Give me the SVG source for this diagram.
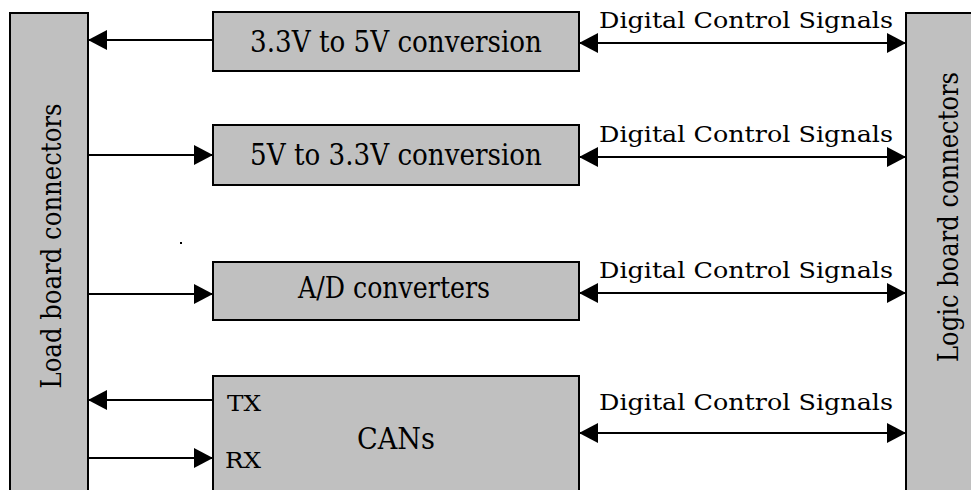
<svg xmlns="http://www.w3.org/2000/svg" width="971" height="490" viewBox="0 0 971 490">
<style>
.box{fill:#c0c0c0;stroke:#000;stroke-width:2}
.t{font-family:'DejaVu Serif','Liberation Serif',serif;fill:#000}
.c{stroke:#000;stroke-width:2;fill:none}
</style>
<defs>
<marker id="ah" viewBox="0 0 19 20" refX="19" refY="10" markerWidth="19" markerHeight="20" markerUnits="userSpaceOnUse" orient="auto-start-reverse">
<path d="M0,0 L19,10 L0,20 z" fill="#000"/>
</marker>
</defs>
<rect width="971" height="490" fill="#fff"/>
<g id="load-board">
<rect class="box" x="10" y="13" width="78" height="482"/>
<text class="t" font-size="28" text-anchor="middle" transform="translate(61,246) rotate(-90)" textLength="285" lengthAdjust="spacingAndGlyphs">Load board connectors</text>
</g>
<g id="logic-board">
<rect class="box" x="906" y="13" width="70" height="482"/>
<text class="t" font-size="28" text-anchor="middle" transform="translate(958,217) rotate(-90)" textLength="290" lengthAdjust="spacingAndGlyphs">Logic board connectors</text>
</g>
<g id="conv33to5">
<rect class="box" x="213" y="12" width="366" height="59"/>
<text class="t" font-size="29" x="396" y="52" text-anchor="middle" textLength="292" lengthAdjust="spacingAndGlyphs">3.3V to 5V conversion</text>
</g>
<g id="conv5to33">
<rect class="box" x="213" y="125" width="366" height="60"/>
<text class="t" font-size="29" x="396" y="165" text-anchor="middle" textLength="292" lengthAdjust="spacingAndGlyphs">5V to 3.3V conversion</text>
</g>
<g id="adc">
<rect class="box" x="213" y="262" width="366" height="58"/>
<text class="t" font-size="29" x="394" y="298" text-anchor="middle" textLength="192" lengthAdjust="spacingAndGlyphs">A/D converters</text>
</g>
<g id="cans">
<rect class="box" x="213" y="376" width="366" height="120"/>
<text class="t" font-size="29" x="396" y="449" text-anchor="middle" textLength="78" lengthAdjust="spacingAndGlyphs">CANs</text>
<text class="t" font-size="22" x="227" y="411" textLength="34" lengthAdjust="spacingAndGlyphs">TX</text>
<text class="t" font-size="22" x="225" y="468" textLength="36" lengthAdjust="spacingAndGlyphs">RX</text>
</g>
<g id="connectors">
<line class="c" x1="213" y1="40" x2="88" y2="40" marker-end="url(#ah)"/>
<line class="c" x1="88" y1="155" x2="213" y2="155" marker-end="url(#ah)"/>
<line class="c" x1="88" y1="294" x2="213" y2="294" marker-end="url(#ah)"/>
<line class="c" x1="213" y1="400" x2="88" y2="400" marker-end="url(#ah)"/>
<line class="c" x1="88" y1="458" x2="213" y2="458" marker-end="url(#ah)"/>
<line class="c" x1="579" y1="43" x2="906" y2="43" marker-start="url(#ah)" marker-end="url(#ah)"/>
<line class="c" x1="579" y1="157" x2="906" y2="157" marker-start="url(#ah)" marker-end="url(#ah)"/>
<line class="c" x1="579" y1="293" x2="906" y2="293" marker-start="url(#ah)" marker-end="url(#ah)"/>
<line class="c" x1="579" y1="433" x2="906" y2="433" marker-start="url(#ah)" marker-end="url(#ah)"/>
<text class="t" font-size="22" x="599" y="28" textLength="294" lengthAdjust="spacingAndGlyphs">Digital Control Signals</text>
<text class="t" font-size="22" x="599" y="142" textLength="294" lengthAdjust="spacingAndGlyphs">Digital Control Signals</text>
<text class="t" font-size="22" x="599" y="278" textLength="294" lengthAdjust="spacingAndGlyphs">Digital Control Signals</text>
<text class="t" font-size="22" x="599" y="410" textLength="294" lengthAdjust="spacingAndGlyphs">Digital Control Signals</text>
</g>
<rect x="180" y="242" width="2" height="2" fill="#000"/>
</svg>
